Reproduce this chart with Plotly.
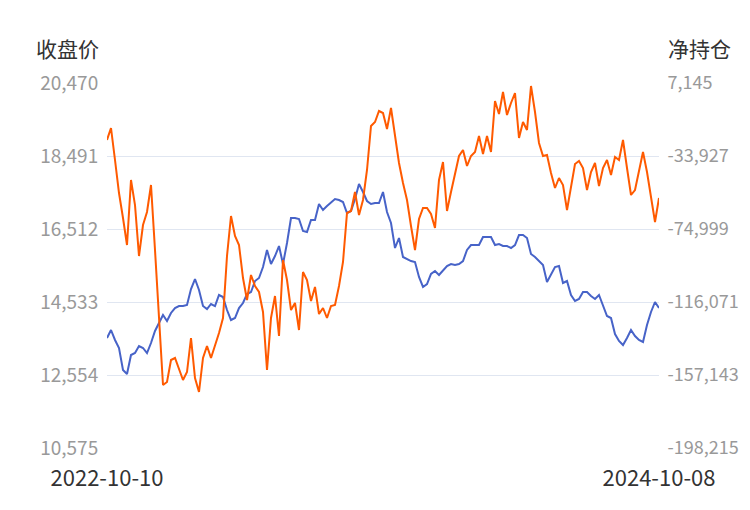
import pandas as pd
import plotly.graph_objects as go

start_date = "2022-10-10"
end_date = "2024-10-08"
n_points = 139

close_price = [
    13557, 13774, 13503, 13286, 12689, 12581, 13096, 13150, 13340, 13286,
    13150, 13421, 13747, 13964, 14180, 14018, 14235, 14370, 14424, 14424,
    14452, 14885, 15156, 14858, 14424, 14343, 14479, 14424, 14723, 14668,
    14316, 14045, 14099, 14370, 14506, 14750, 14804, 15102, 15184, 15482,
    15943, 15563, 15780, 16051, 15563, 16132, 16810, 16810, 16783, 16458,
    16431, 16756, 16756, 17190, 17027, 17135, 17244, 17325, 17298, 17244,
    16946, 17000, 17325, 17732, 17515, 17271, 17190, 17217, 17217, 17515,
    16973, 16675, 15997, 16268, 15753, 15699, 15644, 15617, 15211, 14940,
    15021, 15292, 15373, 15265, 15373, 15509, 15563, 15536, 15563, 15644,
    15943, 16078, 16078, 16078, 16295, 16295, 16295, 16078, 16105, 16051,
    16051, 15997, 16078, 16349, 16349, 16268, 15834, 15753, 15644, 15536,
    15075, 15292, 15482, 15509, 15048, 15102, 14723, 14560, 14614, 14804,
    14804, 14696, 14614, 14723, 14452, 14153, 14099, 13665, 13476, 13367,
    13557, 13774, 13611, 13503, 13449, 13909, 14262, 14533, 14370,
]

net_position = [
    -24925, -18173, -36178, -54744, -68810, -84001, -47430, -61496, -90190, -72748,
    -65434, -50243, -86814, -126198, -162769, -161081, -148704, -147578, -154330, -159956,
    -155455, -136326, -158831, -166708, -147578, -140827, -147578, -140827, -133513, -125073,
    -90190, -67685, -78937, -84001, -102568, -114946, -100880, -107069, -110445, -121697,
    -154330, -125073, -112695, -135200, -92441, -103693, -120572, -116634, -131825, -99192,
    -103693, -115508, -107632, -122823, -119447, -125073, -118321, -117759, -107069, -93566,
    -65997, -64872, -54182, -67122, -58683, -41804, -17048, -14798, -8609, -9734,
    -18736, -6921, -22112, -37865, -49118, -58683, -73311, -86814, -69373, -63184,
    -63184, -66560, -74436, -47430, -37303, -64872, -54182, -43492, -33927, -30551,
    -39553, -33927, -31676, -22674, -32802, -22674, -31676, -2982, -10297, 2081,
    -10859, -4108, 1519, -23800, -14798, -19299, 5457, -9171, -26613, -33927,
    -33364, -43492, -51931, -46305, -50243, -64309, -51931, -38428, -36740, -40679,
    -53056, -42929, -37865, -50806, -40679, -36178, -44617, -34490, -36178, -24925,
    -40679, -55870, -53056, -41804, -31676, -42929, -57557, -71061, -57557,
]

left_ticks = [10575, 12554, 14533, 16512, 18491, 20470]
right_ticks = [-198215, -157143, -116071, -74999, -33927, 7145]
left_title = "收盘价"
right_title = "净持仓"

dates = pd.date_range(start_date, end_date, periods=n_points)

FONT = "Noto Sans CJK SC"
BLUE = "#4763C8"
ORANGE = "#FF5A00"

# page body has an 8px margin; figure is sized to fit inside the 750x510 window
fig = go.Figure()
fig.add_trace(go.Scatter(x=dates, y=close_price, mode="lines", name=left_title,
                         line=dict(color=BLUE, width=2), yaxis="y"))
fig.add_trace(go.Scatter(x=dates, y=net_position, mode="lines", name=right_title,
                         line=dict(color=ORANGE, width=2), yaxis="y2"))

fig.update_layout(
    width=742, height=502,
    margin=dict(l=99, r=91, t=75, b=62, autoexpand=False),
    paper_bgcolor="white", plot_bgcolor="white",
    showlegend=False,
    font=dict(family=FONT),
    xaxis=dict(
        range=[dates[0], dates[-1]],
        tickvals=[dates[0], dates[-1]],
        ticktext=[start_date, end_date],
        showgrid=False, zeroline=False, showline=False, automargin=False,
        ticks="outside", ticklen=11, tickcolor="rgba(0,0,0,0)",
        tickfont=dict(size=22, color="#333333", family=FONT),
    ),
    yaxis=dict(
        range=[left_ticks[0], left_ticks[-1]],
        tickvals=left_ticks,
        ticktext=[f"{v:,}" for v in left_ticks],
        showgrid=True, gridcolor="#E0E6F1", gridwidth=1,
        zeroline=False, showline=False, automargin=False,
        ticks="outside", ticklen=4, tickcolor="rgba(0,0,0,0)",
        tickfont=dict(size=19, color="#999999", family=FONT),
    ),
    yaxis2=dict(
        range=[right_ticks[0], right_ticks[-1]],
        tickvals=right_ticks,
        ticktext=[f"{v:,}" for v in right_ticks],
        overlaying="y", side="right",
        showgrid=False, zeroline=False, showline=False, automargin=False,
        ticks="outside", ticklen=4, tickcolor="rgba(0,0,0,0)",
        tickfont=dict(size=18, color="#999999", family=FONT),
    ),
    annotations=[
        dict(text=left_title, xref="paper", yref="paper",
             x=(34 - 107) / 552, y=(448 - 48) / 365,
             xanchor="left", yanchor="middle", showarrow=False,
             font=dict(size=21, color="#333333", family=FONT)),
        dict(text=right_title, xref="paper", yref="paper",
             x=(666 - 107) / 552, y=(448 - 48) / 365,
             xanchor="left", yanchor="middle", showarrow=False,
             font=dict(size=21, color="#333333", family=FONT)),
    ],
)

fig.write_html("out.html")
